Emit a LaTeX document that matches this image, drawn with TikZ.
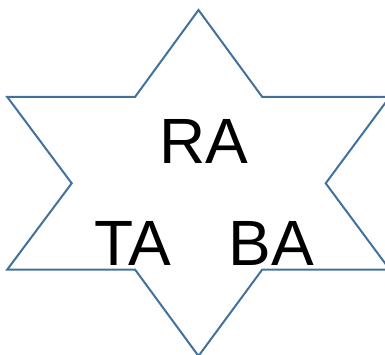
\documentclass[tikz,border=0pt]{standalone}
\usepackage{fontspec}
\setmainfont{Liberation Sans}
\definecolor{starblue}{RGB}{65,113,156}
\begin{document}
\begin{tikzpicture}[x=1pt,y=-1pt,
  starline/.style={draw=starblue,line width=2pt,line join=miter},
  lbl/.style={font=\fontsize{64}{70}\selectfont,inner sep=0pt,anchor=base}]
\useasboundingbox (0,0) rectangle (385,355);
\coordinate (top) at (198.5,10);
\coordinate (iul) at (135,97);
\coordinate (oul) at (7.3,97);
\coordinate (il) at (71.7,183.3);
\coordinate (oll) at (7.3,269.5);
\coordinate (ill) at (135,269.5);
\coordinate (bot) at (198.5,356);
\coordinate (ilr) at (262.3,269.5);
\coordinate (olr) at (389.7,269.5);
\coordinate (ir) at (325.7,183.3);
\coordinate (our) at (389.7,97);
\coordinate (iur) at (262.3,97);
\draw[starline] (top) -- (iul) -- (oul) -- (il) -- (oll) -- (ill) -- (bot) -- (ilr) -- (olr) -- (ir) -- (our) -- (iur) -- cycle;
\node[lbl] (ra) at (203.5,164) {RA};
\node[lbl] (ta) at (133,265) {TA};
\node[lbl] (ba) at (271.5,265) {BA};
\end{tikzpicture}
\end{document}
